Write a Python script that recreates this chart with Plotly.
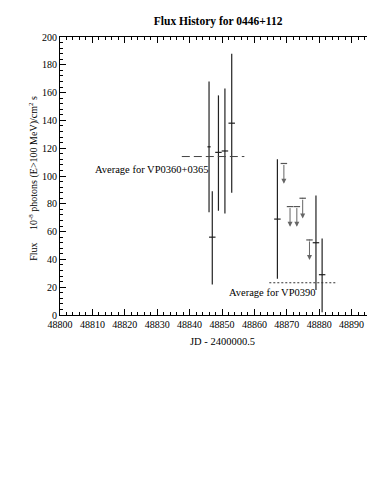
import plotly.graph_objects as go

# detections: JD, flux, lower / upper error, half bin width
det_jd = [48846.0, 48847.0, 48848.9, 48850.9, 48853.0, 48867.1, 48879.0, 48880.9]
det_flux = [121, 56, 117, 118, 138, 69, 52, 29]
det_lo = [74, 22, 75, 73, 88, 26, 18, 2]
det_hi = [168, 89, 158, 163, 188, 112, 86, 55]
det_bin = [0.5, 1.0, 1.0, 1.0, 1.0, 1.0, 1.0, 1.0]

# upper limits
ul_jd = [48869.1, 48871.0, 48873.1, 48874.9, 48877.0]
ul_flux = [109, 78, 78, 84, 54]
ul_bin = [1.0, 1.0, 1.0, 1.0, 1.0]
arrow_len = 14.5

# viewing period averages
avg1_x = [48837.6, 48856.9]
avg1_y = [114, 114]
avg2_x = [48864.6, 48885.6]
avg2_y = [23.2, 23.2]

serif = "Liberation Serif"
ink = "#222"

fig = go.Figure()

fig.add_trace(go.Scatter(
    x=det_jd, y=det_flux, mode="markers",
    marker=dict(size=1, color=ink),
    error_y=dict(type="data", symmetric=False,
                 array=[h - f for h, f in zip(det_hi, det_flux)],
                 arrayminus=[f - l for f, l in zip(det_flux, det_lo)],
                 color=ink, thickness=1.2, width=0),
    error_x=dict(type="data", array=det_bin, color=ink, thickness=1.2, width=0),
    showlegend=False))

fig.add_trace(go.Scatter(
    x=ul_jd, y=ul_flux, mode="markers",
    marker=dict(size=1, color="#555"),
    error_x=dict(type="data", array=ul_bin, color="#555", thickness=1.2, width=0),
    showlegend=False))

for x, f in zip(ul_jd, ul_flux):
    fig.add_annotation(x=x, y=f - arrow_len, ax=x, ay=f, xref="x", yref="y",
                       axref="x", ayref="y", text="", showarrow=True,
                       arrowhead=2, arrowsize=1, arrowwidth=1, arrowcolor="#666")

fig.add_trace(go.Scatter(x=avg1_x, y=avg1_y, mode="lines",
                         line=dict(color="#444", width=1, dash="8px,4px"),
                         showlegend=False))
fig.add_trace(go.Scatter(x=avg2_x, y=avg2_y, mode="lines",
                         line=dict(color="#333", width=1, dash="2px,2px"),
                         showlegend=False))

fig.add_annotation(x=48810.2, y=105, xref="x", yref="y", text="Average for VP0360+0365",
                   showarrow=False, xanchor="left", font=dict(family=serif, size=10.5, color="black"))
fig.add_annotation(x=48851.5, y=16.0, xref="x", yref="y", text="Average for VP0390",
                   showarrow=False, xanchor="left", font=dict(family=serif, size=10.5, color="black"))

# axis titles
fig.add_annotation(x=0.503, y=-0.094, xref="paper", yref="paper", text="JD - 2400000.5",
                   showarrow=False, yanchor="middle", font=dict(family=serif, size=10.5, color="black"))
fig.add_annotation(x=-0.08, y=0.49, xref="paper", yref="paper",
                   text="Flux     10<sup>-8</sup> photons (E>100 MeV)/cm<sup>2</sup> s",
                   textangle=-90, showarrow=False, xanchor="center",
                   font=dict(family=serif, size=10, color="black"))

fig.update_layout(
    width=376, height=475,
    margin=dict(l=52, r=0, t=29, b=168),
    plot_bgcolor="white", paper_bgcolor="white",
    title=dict(text="<b>Flux History for 0446+112</b>", xref="paper", x=0.488, xanchor="center",
               yref="container", y=1 - 13 / 475, yanchor="middle",
               font=dict(family=serif, size=11.5, color="black")),
    font=dict(family=serif, size=10, color="black"),
    xaxis=dict(range=[48800, 48900], tick0=48800, dtick=10, tickformat="d", ticks="inside", ticklen=6,
               tickcolor="black", showline=True, linecolor="black", linewidth=1, mirror="ticks",
               showgrid=False, zeroline=False,
               minor=dict(dtick=2, ticks="inside", ticklen=3, tickcolor="black")),
    yaxis=dict(range=[0, 200], tick0=0, dtick=20, ticks="inside", ticklen=6,
               tickcolor="black", showline=True, linecolor="black", linewidth=1, mirror=False,
               showgrid=False, zeroline=False,
               minor=dict(dtick=4, ticks="inside", ticklen=3, tickcolor="black")),
)

fig.write_html("out.html")
